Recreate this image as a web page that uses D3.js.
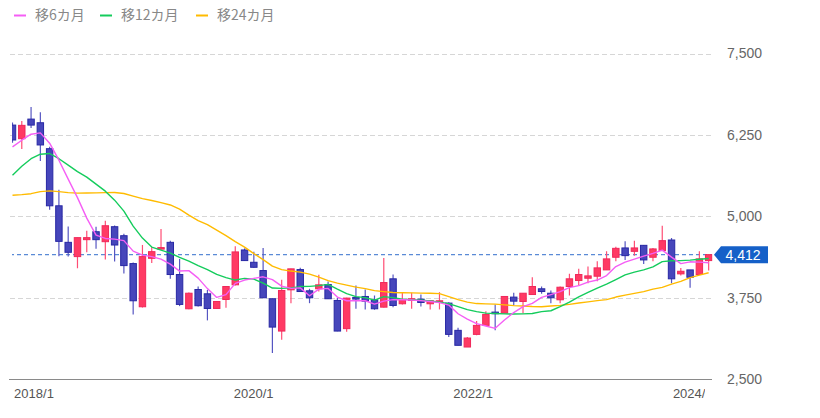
<!DOCTYPE html>
<html><head><meta charset="utf-8">
<script src="https://cdn.jsdelivr.net/npm/d3@7/dist/d3.min.js"></script>
<style>
body{margin:0;background:#fff;}
svg{display:block;font-family:"Liberation Sans",Arial,sans-serif;}
</style></head><body>
<svg id="c" width="820" height="418"></svg>
<script>
const months = ["2017/11","2017/12",
"2018/1","2018/2","2018/3","2018/4","2018/5","2018/6","2018/7","2018/8","2018/9","2018/10","2018/11","2018/12",
"2019/1","2019/2","2019/3","2019/4","2019/5","2019/6","2019/7","2019/8","2019/9","2019/10","2019/11","2019/12",
"2020/1","2020/2","2020/3","2020/4","2020/5","2020/6","2020/7","2020/8","2020/9","2020/10","2020/11","2020/12",
"2021/1","2021/2","2021/3","2021/4","2021/5","2021/6","2021/7","2021/8","2021/9","2021/10","2021/11","2021/12",
"2022/1","2022/2","2022/3","2022/4","2022/5","2022/6","2022/7","2022/8","2022/9","2022/10","2022/11","2022/12",
"2023/1","2023/2","2023/3","2023/4","2023/5","2023/6","2023/7","2023/8","2023/9","2023/10","2023/11","2023/12",
"2024/1","2024/2"];

const openP = [6401,6192,6493,6437,6039,5162,4601,4382,4642,4764,4611,4841,4703,4275,3612,4356,4500,4601,4107,3581,
3877,3811,3586,3724,3949,4484,4295,4168,3735,3239,3872,4183,3857,3888,3953,3709,3276,3755,3770,3719,
3606,4041,3658,3709,3729,3658,3683,3668,3250,2994,3188,3326,3530,3514,3760,3693,3800,3888,3820,3719,
3923,4015,4050,4081,4178,4372,4515,4463,4555,4372,4474,4637,4117,4178,4107,4321];
const highP = [6440,6463,6677,6600,6070,5407,4845,4673,4780,4841,4933,4860,4734,4290,4561,4524,4806,4627,4347,3830,
3923,3872,3700,3923,4540,4509,4458,4515,3740,4025,4194,4210,3888,4102,4000,3750,3750,3938,3877,3785,
4362,4107,3826,3826,3800,3704,3836,3680,3291,3147,3392,3545,3648,3770,3826,3820,4065,3923,3862,3923,
4117,4194,4229,4310,4463,4535,4616,4627,4560,4515,4856,4668,4209,4178,4463,4412];
const lowP = [6130,6034,6356,5851,5101,4386,4382,4203,4448,4504,4336,4305,4122,3494,3600,4285,4490,4041,3622,3575,
3617,3403,3580,3597,3940,4315,4210,3745,2902,3107,3667,3840,3667,3846,3730,3235,3230,3581,3571,3566,
3600,3606,3648,3581,3617,3571,3571,3147,3020,2994,3173,3326,3250,3514,3632,3514,3800,3811,3667,3667,
3785,3938,3973,4004,4178,4310,4331,4397,4270,4310,4474,3973,4091,3903,4100,4168];
const closeP = [6172,6397,6401,6096,5162,4616,4448,4673,4673,4642,4856,4560,4244,3704,4382,4458,4520,4107,3648,3820,
3628,3586,3693,3923,4454,4321,4218,3750,3300,3862,4194,3846,3750,3949,3735,3239,3745,3730,3698,3581,
3984,3632,3719,3735,3678,3704,3704,3188,3020,3132,3326,3494,3505,3770,3698,3820,3923,3846,3750,3912,
4041,4107,4086,4209,4347,4509,4397,4515,4331,4500,4627,4041,4157,4065,4347,4412];

const ma6 = [6066,6169,6261,6281,6123,5862,5571,5287,4973,4712,4661,4650,4627,4466,4405,4382,4344,4267,4160,4167,
4052,3891,3756,3799,3971,4022,4048,4072,4029,3929,3894,3902,3781,3883,3894,3761,3704,3704,3704,3653,
3699,3722,3719,3715,3707,3692,3676,3638,3505,3423,3354,3316,3281,3408,3523,3615,3664,3756,3799,3845,
3906,3937,3991,4022,4091,4229,4298,4344,4390,4431,4482,4374,4275,4302,4298,4287];
const ma12 = [5632,5770,5885,5954,5965,5885,5786,5686,5602,5494,5387,5249,5080,4850,4666,4528,4482,4436,4370,4313,
4244,4183,4109,4060,4022,4048,4037,3975,3899,3894,3902,3922,3925,3937,3956,3883,3814,3768,3753,3715,
3768,3753,3730,3722,3712,3702,3684,3661,3615,3569,3538,3515,3508,3503,3500,3503,3508,3538,3551,3615,
3684,3765,3833,3899,3960,4029,4101,4144,4178,4224,4305,4318,4321,4328,4341,4354];
const ma24 = [5325,5333,5348,5379,5391,5379,5364,5356,5359,5361,5364,5367,5351,5310,5272,5244,5210,5175,5111,5019,
4934,4873,4789,4704,4612,4528,4428,4336,4236,4183,4160,4144,4114,4068,4014,3975,3945,3914,3891,3860,
3845,3830,3827,3825,3822,3819,3814,3768,3722,3684,3661,3656,3653,3641,3630,3623,3615,3612,3623,3633,
3649,3669,3687,3707,3722,3761,3791,3817,3845,3883,3910,3960,4002,4060,4098,4134];

const seriesNames = ["移6カ月","移12カ月","移24カ月"];
const seriesColors = ["#f55ef5","#14cc5c","#ffbb00"];
const yTicks = [2500,3750,5000,6250,7500];
const xTickLabels = ["2018/1","2020/1","2022/1","2024/1"];
const lastPrice = 4412;

const svg = d3.select("#c");
const x = d3.scaleBand().domain(months).range([7.86, 713.3]).paddingInner(0.2).paddingOuter(0.1);
const xLab = d3.scalePoint().domain(months).range([15.2, 701.4]);
const y = d3.scaleLinear().domain([2500, 7500]).range([379.2, 53.5]);
const cx = m => x(m) + x.bandwidth()/2;

const defs = svg.append("defs");
defs.append("clipPath").attr("id","plot").append("rect").attr("x",12).attr("y",0).attr("width",700.5).attr("height",379);
defs.append("clipPath").attr("id","xlab").append("rect").attr("x",0).attr("y",380).attr("width",705).attr("height",38);

// grid
svg.append("g").selectAll("line").data(yTicks.filter(d=>d>2500)).join("line")
  .attr("x1",10).attr("x2",712).attr("y1",d=>Math.round(y(d))+0.5).attr("y2",d=>Math.round(y(d))+0.5)
  .attr("stroke","#d6d6d6").attr("stroke-width",1).attr("stroke-dasharray","5,3");

// x axis line
svg.append("line").attr("x1",9).attr("x2",712).attr("y1",Math.round(y(2500))+0.5).attr("y2",Math.round(y(2500))+0.5)
  .attr("stroke","#8a8a8a").attr("stroke-width",1.2);

// y axis labels
const yAxis = d3.axisRight(y).tickValues(yTicks).tickSize(0).tickPadding(0).tickFormat(d3.format(","));
const gy = svg.append("g").attr("transform","translate(727,0)").call(yAxis);
gy.select(".domain").remove();
gy.selectAll("text").attr("font-size",14).attr("fill","#666").attr("font-family","'Liberation Sans',Arial,sans-serif");

// x axis labels
const xAxis = d3.axisBottom(xLab).tickValues(xTickLabels).tickSize(0).tickPadding(0);
const gxWrap = svg.append("g").attr("clip-path","url(#xlab)");
const gx = gxWrap.append("g").attr("transform","translate(0,389)").call(xAxis);
gx.select(".domain").remove();
gx.selectAll("text").attr("font-size",13).attr("fill","#555").attr("font-family","'Liberation Sans',Arial,sans-serif");

const plot = svg.append("g").attr("clip-path","url(#plot)");

// current price line
plot.append("line").attr("x1",10).attr("x2",712).attr("y1",y(lastPrice)).attr("y2",y(lastPrice))
  .attr("stroke","#5a8ad6").attr("stroke-width",1.2).attr("stroke-dasharray","4,3");

const candles = months.map((m,i)=>({m, o:openP[i], h:highP[i], l:lowP[i], c:closeP[i]}));
const up = d => d.c >= d.o;
const bw = x.bandwidth();

plot.append("g").selectAll("line").data(candles).join("line")
  .attr("x1",d=>cx(d.m)).attr("x2",d=>cx(d.m))
  .attr("y1",d=>y(d.h)).attr("y2",d=>y(d.l))
  .attr("stroke",d=>up(d)?"#ff4d74":"#5656c2").attr("stroke-width",1.2);

plot.append("g").selectAll("rect").data(candles).join("rect")
  .attr("x",d=>cx(d.m)-bw/2+0.5).attr("width",bw-1)
  .attr("y",d=>y(Math.max(d.o,d.c)))
  .attr("height",d=>Math.max(1.5, Math.abs(y(d.o)-y(d.c))))
  .attr("fill",d=>up(d)?"#ff3a64":"#4646bb")
  .attr("stroke",d=>up(d)?"#f0285a":"#2828a4").attr("stroke-width",1);

// moving averages
const maSeries = [ma6, ma12, ma24];
const line = d3.line().x((d,i)=>cx(months[i])).y(d=>y(d));
maSeries.slice().reverse().forEach((s,k)=>{
  const idx = 2-k;
  plot.append("path").datum(s).attr("d",line).attr("fill","none")
    .attr("stroke",seriesColors[idx]).attr("stroke-width",1.4).attr("stroke-linejoin","round");
});

// price tag
const yp = y(lastPrice);
svg.append("path")
  .attr("d",`M714,${yp} L721,${yp-8.5} L768,${yp-8.5} L768,${yp+8.5} L721,${yp+8.5} Z`)
  .attr("fill","#1560c8");
svg.append("text").attr("x",743).attr("y",yp).attr("dy","0.36em").attr("text-anchor","middle")
  .attr("font-size",14).attr("fill","#fff").text(d3.format(",")(lastPrice));

// legend
const legX = [14, 100, 196];
const lg = svg.append("g");
seriesNames.forEach((n,i)=>{
  lg.append("line").attr("x1",legX[i]).attr("x2",legX[i]+12).attr("y1",15.5).attr("y2",15.5)
    .attr("stroke",seriesColors[i]).attr("stroke-width",2);
  lg.append("text").attr("x",legX[i]+21).attr("y",15).attr("dy","0.36em")
    .attr("font-family","'Noto Sans CJK JP',sans-serif").attr("font-size",14).attr("fill","#888").text(n);
});
</script>
</body></html>
